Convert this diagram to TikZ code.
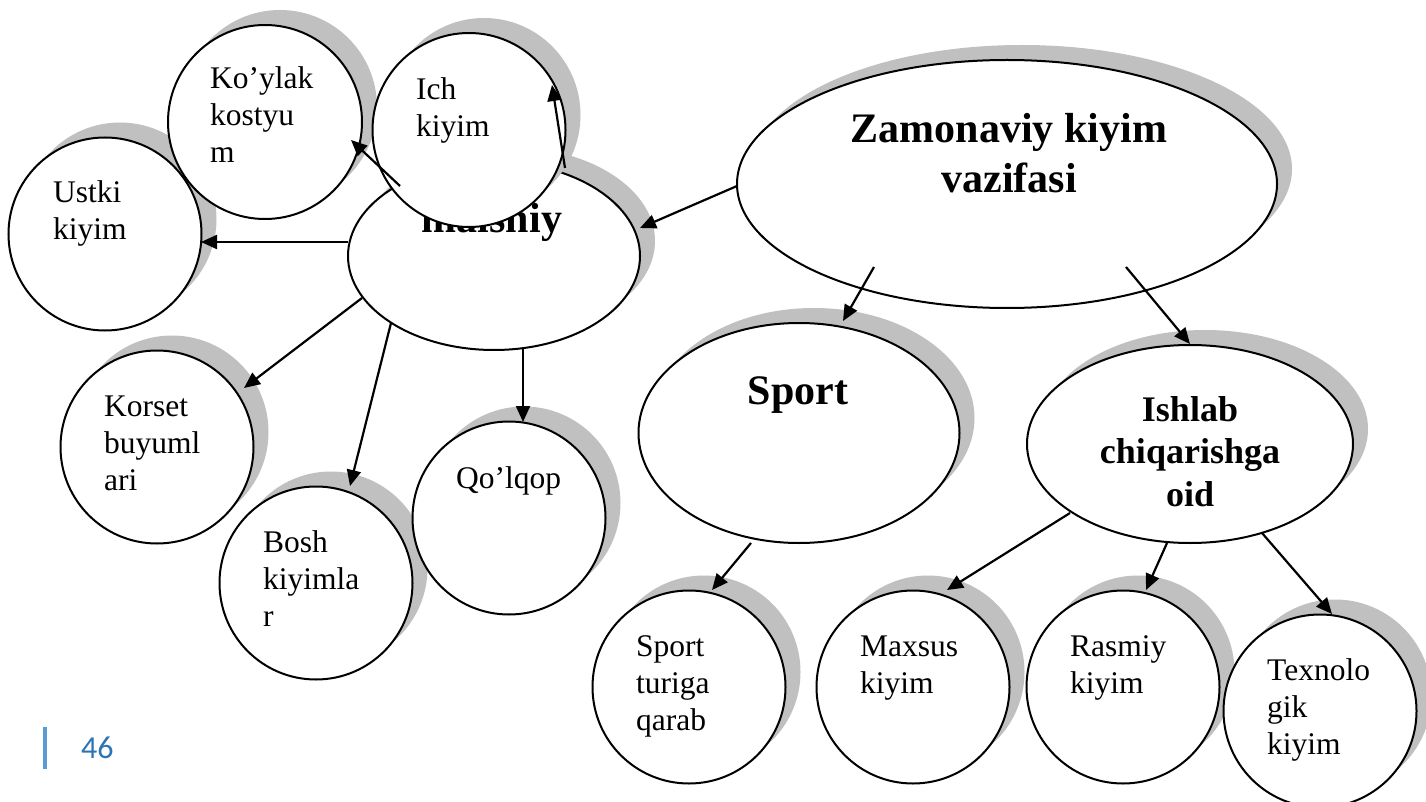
\documentclass[tikz,border=0pt]{standalone}
\usepackage{fontspec}
\setmainfont{Liberation Serif}
\newfontfamily\pagefont{Carlito}
\usetikzlibrary{shapes.geometric,arrows.meta,calc}
\definecolor{discgrey}{HTML}{C0C0C0}
\definecolor{pagebar}{HTML}{5B9BD5}
\definecolor{pagenum}{HTML}{2E74B5}
% multi-line text whose baseline is that of the first line
\newcommand\leftlines[1]{\vtop{\halign{##\hfil\cr#1\crcr}}}
\newcommand\midlines[1]{\vtop{\halign{\hfil##\hfil\cr#1\crcr}}}
% grey offset disc behind a bubble: centre, half width, half height
\newcommand\backdisc[3]{\fill[discgrey] ($#1+(15,-15)$) ellipse [x radius=#2pt, y radius=#3pt];}
\begin{document}
\begin{tikzpicture}[x=1pt,y=-1pt,
  bubble/.style={shape=ellipse, draw=black, fill=white, line width=2pt,
    inner sep=0pt, outer sep=0pt},
  dims/.style 2 args={minimum width=#1, minimum height=#2},
  txt/.style={font=\fontsize{31.5}{37}\selectfont, inner sep=0pt, anchor=base west},
  head/.style={font=\bfseries\fontsize{42}{50}\selectfont, inner sep=0pt, anchor=base},
  subhead/.style={font=\bfseries\fontsize{36}{42.5}\selectfont, inner sep=0pt, anchor=base},
  link/.style={line width=2.2pt, -{Triangle[length=16pt,width=14pt]}}]
\clip (0,0) rectangle (1426,802);
\fill[white] (0,0) rectangle (1426,802);

% central topic
\backdisc{(1007,184)}{270}{124}
\node[bubble, dims={540pt}{248pt}] (zam) at (1007,184) {};
\node[head] (zamT) at (1009,143) {\midlines{Zamonaviy kiyim\cr vazifasi}};

% household clothing and its branches
\backdisc{(494,256)}{146}{94}
\node[bubble, dims={292pt}{188pt}] (mai) at (494,256) {};
\node[head] (maiT) at (492,233) {maishiy};
\backdisc{(105,234)}{96.5}{96.5}
\node[bubble, dims={193pt}{193pt}] (ust) at (105,234) {};
\node[txt] (ustT) at (53,203) {\leftlines{Ustki\cr kiyim}};
\backdisc{(265,122)}{97}{97}
\node[bubble, dims={194pt}{194pt}] (koy) at (265,122) {};
\node[txt] (koyT) at (210,89) {\leftlines{Ko’ylak\cr kostyu\cr m}};
\backdisc{(469,130)}{96.5}{97}
\node[bubble, dims={193pt}{194pt}] (ich) at (469,130) {};
\node[txt] (ichT) at (416,100) {\leftlines{Ich\cr kiyim}};
\backdisc{(157,447)}{96.5}{96.5}
\node[bubble, dims={193pt}{193pt}] (kor) at (157,447) {};
\node[txt] (korT) at (104,416) {\leftlines{Korset\cr buyuml\cr ari}};
\backdisc{(316,583)}{96.5}{96.5}
\node[bubble, dims={193pt}{193pt}] (bosh) at (316,583) {};
\node[txt] (boshT) at (263,552) {\leftlines{Bosh\cr kiyimla\cr r}};
\backdisc{(509,518)}{96.5}{96.5}
\node[bubble, dims={193pt}{193pt}] (qol) at (509,518) {};
\node[txt] (qolT) at (456,488) {Qo’lqop};

% sport clothing
\backdisc{(799,433)}{160.5}{110}
\node[bubble, dims={321pt}{220pt}] (sport) at (799,433) {};
\node[head] (sportT) at (798,404) {Sport};

% production clothing
\backdisc{(1190,444)}{163}{99}
\node[bubble, dims={326pt}{198pt}] (ish) at (1190,444) {};
\node[subhead] (ishT) at (1190,421) {\midlines{Ishlab\cr chiqarishga\cr oid}};

% lower row
\backdisc{(689,687)}{96.5}{96.5}
\node[bubble, dims={193pt}{193pt}] (stq) at (689,687) {};
\node[txt] (stqT) at (636,656) {\leftlines{Sport\cr turiga\cr qarab}};
\backdisc{(913,687)}{96.5}{96.5}
\node[bubble, dims={193pt}{193pt}] (max) at (913,687) {};
\node[txt] (maxT) at (860,656) {\leftlines{Maxsus\cr kiyim}};
\backdisc{(1123,687)}{96.5}{96.5}
\node[bubble, dims={193pt}{193pt}] (ras) at (1123,687) {};
\node[txt] (rasT) at (1070,656) {\leftlines{Rasmiy\cr kiyim}};
\backdisc{(1320,711)}{96.5}{96.5}
\node[bubble, dims={193pt}{193pt}] (tex) at (1320,711) {};
\node[txt] (texT) at (1267,680) {\leftlines{Texnolo\cr gik\cr kiyim}};

% connectors
\draw[link] ($(zam)+(-270,2)$) -- ($(mai)+(146,-28)$);
\draw[link] ($(zam)+(-133,83)$) -- ($(sport)+(44,-112)$);
\draw[link] ($(zam)+(119,83)$) -- ($(ish)+(0,-100)$);
\draw[link] ($(mai)+(-146,-14)$) -- ($(ust)+(96,8)$);
\draw[link] ($(mai)+(-94,-70)$) -- ($(koy)+(86,18)$);
\draw[link] ($(mai)+(71,-88)$) -- ($(ich)+(83,-45)$);
\draw[link] ($(mai)+(-132,42)$) -- ($(kor)+(87,-59)$);
\draw[link] ($(mai)+(-103,67)$) -- ($(bosh)+(34,-97)$);
\draw[link] ($(mai)+(29,91)$) -- ($(qol)+(14,-96)$);
\draw[link] ($(sport)+(-48,110)$) -- ($(stq)+(23,-97)$);
\draw[link] ($(ish)+(-120,69)$) -- ($(max)+(34,-97)$);
\draw[link] ($(ish)+(-23,99)$) -- ($(ras)+(23,-97)$);
\draw[link] ($(ish)+(72,89)$) -- ($(tex)+(12,-97)$);

% page number
\fill[pagebar] (43,727) rectangle (47,769);
\node[inner sep=0pt, anchor=base west, text=pagenum, font=\pagefont\fontsize{32}{38}\selectfont] (page) at (81,758) {46};
\end{tikzpicture}
\end{document}
